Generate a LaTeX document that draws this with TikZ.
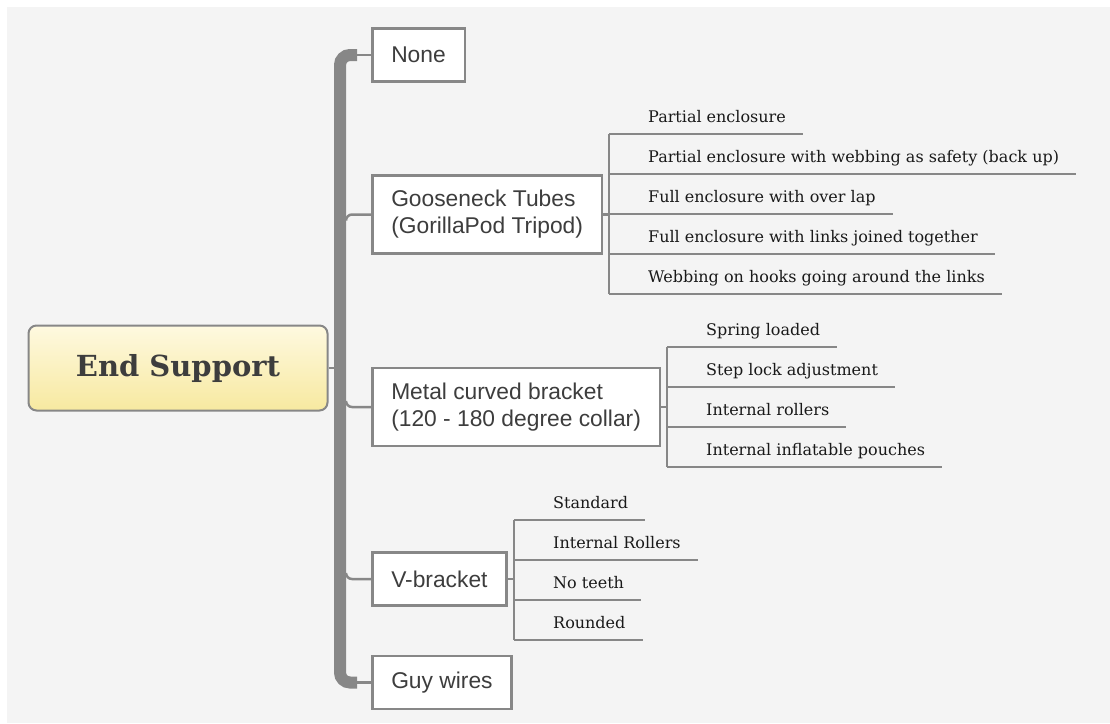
\documentclass[tikz,border=0pt]{standalone}
\usepackage{fontspec}
\setmainfont{DejaVu Serif}
\newfontfamily\boxfont{Liberation Sans}
\usepackage{tikz}
\usetikzlibrary{positioning}
\definecolor{bgGray}{HTML}{F4F4F4}
\definecolor{lineGray}{HTML}{878787}
\definecolor{rootTop}{HTML}{FEF9E0}
\definecolor{rootBot}{HTML}{F7E9A0}
\definecolor{inkGray}{HTML}{3D3D3D}

\begin{document}
\begin{tikzpicture}[x=1pt,y=-1pt,
  root/.style={draw=lineGray,line width=2,rounded corners=8,top color=rootTop,bottom color=rootBot,minimum width=299,minimum height=85,font=\fontsize{29}{35}\selectfont\bfseries,text=inkGray},
  topic/.style={draw=lineGray,line width=2.5,fill=white,anchor=west,align=left,inner xsep=19,inner ysep=15,minimum height=53,font=\boxfont\fontsize{22.8}{27}\selectfont,text=inkGray},
  leaf/.style={anchor=south west,inner xsep=0,inner ysep=11,text depth=0pt,font=\fontsize{16}{19}\selectfont,text=black!90},
  twig/.style={lineGray,line width=2.5},
  trunk/.style={lineGray,line width=12,rounded corners=10}]
\fill[bgGray] (7,7) rectangle (1110,723);
\useasboundingbox (0,0) rectangle (1110,723);

\node[root] (root) at (178,368) {End Support};

\node[topic] (none) at (371,55) {None};
\node[topic] (goose) at (371,214.5) {Gooseneck Tubes\\(GorillaPod Tripod)};
\node[topic] (metal) at (371,407) {Metal curved bracket\\(120 - 180 degree collar)};
\node[topic] (vbr) at (371,579) {V-bracket};
\node[topic] (guy) at (371,682.5) {Guy wires};

\draw[trunk] ([xshift=-14]none.west) -- ([xshift=-31]none.west) -- ([xshift=-31]guy.west) -- ([xshift=-14]guy.west);
\draw[twig] (root.east) -- ++(8,0);
\draw[twig] (none.west) -- ++(-18,0);
\draw[twig] (guy.west) -- ++(-18,0);
\draw[twig] (goose.west) -- ++(-19,0) arc[start angle=-90,end angle=-180,radius=6];
\draw[twig] (metal.west) -- ++(-19,0) arc[start angle=90,end angle=180,radius=6];
\draw[twig] (vbr.west) -- ++(-19,0) arc[start angle=90,end angle=180,radius=6];

\coordinate (gj) at (609,214.5);
\coordinate (mj) at (667,407);
\coordinate (vj) at (514,579);

\foreach \t [count=\i] in {Partial enclosure,Partial enclosure with webbing as safety (back up),Full enclosure with over lap,Full enclosure with links joined together,Webbing on hooks going around the links}
  \node[leaf] (g\i) at (648,94+40*\i) {\t};
\foreach \t [count=\i] in {Spring loaded,Step lock adjustment,Internal rollers,Internal inflatable pouches}
  \node[leaf] (m\i) at (706,307+40*\i) {\t};
\foreach \t [count=\i] in {Standard,Internal Rollers,No teeth,Rounded}
  \node[leaf] (v\i) at (553,480+40*\i) {\t};

\draw[twig] (goose.east) -- (gj);
\draw[twig] (gj |- g1.south) -- (gj |- g5.south);
\foreach \i in {1,...,5} \draw[twig] (gj |- g\i.south) -- ([xshift=17]g\i.south east);
\draw[twig] (metal.east) -- (mj);
\draw[twig] (mj |- m1.south) -- (mj |- m4.south);
\foreach \i in {1,...,4} \draw[twig] (mj |- m\i.south) -- ([xshift=17]m\i.south east);
\draw[twig] (vbr.east) -- (vj);
\draw[twig] (vj |- v1.south) -- (vj |- v4.south);
\foreach \i in {1,...,4} \draw[twig] (vj |- v\i.south) -- ([xshift=17]v\i.south east);
\end{tikzpicture}
\end{document}
